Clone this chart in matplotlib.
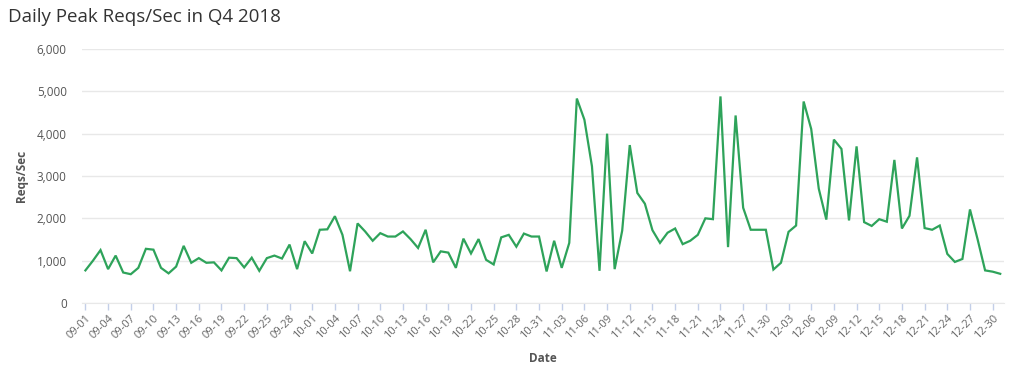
import numpy as np
import pandas as pd
import matplotlib.pyplot as plt

plt.rcParams['font.family'] = ['Open Sans', 'DejaVu Sans']

# daily peak requests per second, 2018-09-01 .. 2018-12-31
dates = pd.date_range('2018-09-01', '2018-12-31', freq='D')
reqs = [
    770, 1000, 1250, 800, 1120, 720, 680, 830, 1280, 1260,
    830, 700, 860, 1350, 950, 1060, 950, 960, 770, 1070,
    1060, 840, 1070, 760, 1060, 1120, 1050, 1380, 800, 1460,
    1170, 1730, 1740, 2050, 1610, 750, 1880, 1690, 1470, 1650,
    1570, 1570, 1690, 1510, 1300, 1730, 960, 1220, 1190, 830,
    1520, 1170, 1510, 1020, 910, 1550, 1610, 1330, 1640, 1570,
    1570, 745, 1470, 830, 1420, 4830, 4330, 3230, 760, 4000,
    800, 1710, 3730, 2600, 2345, 1720, 1420, 1660, 1760, 1390,
    1470, 1610, 2000, 1980, 4880, 1320, 4430, 2250, 1730, 1730,
    1730, 790, 950, 1680, 1830, 4760, 4110, 2700, 1970, 3860,
    3640, 1950, 3700, 1910, 1820, 1980, 1920, 3380, 1760, 2060,
    3440, 1770, 1730, 1830, 1160, 970, 1040, 2210, 1510, 770,
    740, 690,
]
date_labels = [d.strftime('%m-%d') for d in dates]

x = np.arange(len(reqs))

fig = plt.figure(figsize=(10.25, 3.79), dpi=100)
ax = fig.add_axes([82 / 1025, 1 - 303 / 379, (1004 - 82) / 1025, (303 - 49) / 379])

ax.plot(x, reqs, color='#2ea35a', linewidth=1.6, solid_joinstyle='miter')

ax.set_xlim(-0.45, len(reqs) - 0.5)
ax.set_ylim(0, 6000)
ax.set_yticks(np.arange(0, 6001, 1000))
ax.set_yticklabels([f'{v:,}' for v in range(0, 6001, 1000)])
ax.set_xticks(x[::3])
ax.set_xticklabels(date_labels[::3], rotation=45, ha='right', rotation_mode='anchor')

ax.grid(axis='y', color='#e8e8e8', linewidth=1)
ax.set_axisbelow(True)
for s in ['top', 'right', 'left']:
    ax.spines[s].set_visible(False)
ax.spines['bottom'].set_color('#e8e8e8')
ax.tick_params(axis='y', length=0, pad=11, labelsize=8.5, labelcolor='#555555')
ax.tick_params(axis='x', length=5, width=1, color='#c3cfe8', pad=2,
               labelsize=8, labelcolor='#666666')

ax.set_ylabel('Reqs/Sec', fontsize=8.5, fontweight='bold', color='#555555', labelpad=6)
ax.set_xlabel('Date', fontsize=8.5, fontweight='bold', color='#555555', labelpad=8)

fig.text(8 / 1025, 1 - 17 / 379, 'Daily Peak Reqs/Sec in Q4 2018', fontsize=13.5,
         color='#333333', va='center', ha='left')

fig.savefig('out.png', dpi=100)
